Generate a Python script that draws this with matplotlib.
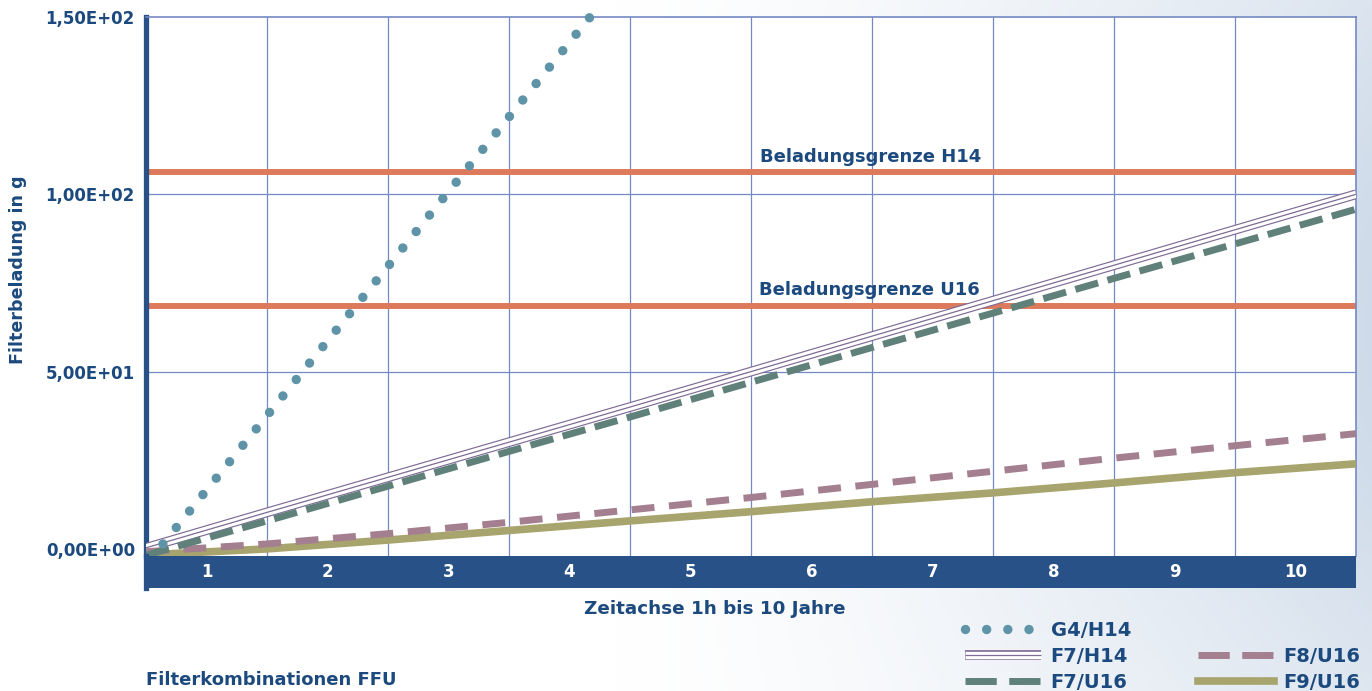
import numpy as np
import matplotlib.pyplot as plt
from matplotlib.lines import Line2D
from matplotlib.legend_handler import HandlerTuple
from matplotlib.ticker import FuncFormatter

plt.rcParams['font.family'] = ['DejaVu Sans']
plt.rcParams['font.weight'] = 'bold'

# Werte (Spaltengrenzen 0..10)
jahre = np.arange(0, 11)
f7_h14 = [0.3, 10.3, 20.2, 30.1, 40.0, 50.0, 60.0, 70.0, 80.0, 90.0, 100.0]
f7_u16 = [-1.8, 7.9, 17.7, 27.5, 37.2, 47.0, 56.8, 66.5, 76.3, 86.0, 95.8]
f8_u16 = [-0.8, 1.4, 4.3, 7.5, 11.0, 14.5, 18.2, 21.9, 25.6, 29.1, 32.5]
f9_u16 = [-1.7, 0.0, 2.5, 5.2, 7.9, 10.5, 13.3, 15.8, 18.6, 21.5, 24.0]
g4_x = [0.14, 3.67]
g4_h14 = [1.4, 150.0]

grenze_h14 = 106.2
grenze_u16 = 68.6
y_ticks = [0, 50, 100, 150]
x_labels = [str(i) for i in range(1, 11)]

# Farben
blau = '#1d4a7e'
band_blau = '#285287'
gitter = '#7489c4'
orange = '#dd7a5c'
c_g4 = '#5f93a8'
c_f7h14 = '#7f6b95'
c_f7u16 = '#60807a'
c_f8u16 = '#a47f90'
c_f9u16 = '#a8a46e'

fig = plt.figure(figsize=(13.72, 6.91), dpi=100)

# heller Hintergrund rechts
bg = fig.add_axes([0, 0, 1, 1], zorder=-10)
gx = np.linspace(0, 1, 300)
gy = np.linspace(0, 1, 150)
X, Y = np.meshgrid(gx, gy)
w = np.clip((X - 0.45) / 0.55, 0, 1) ** 1.3 * (0.65 + 0.3 * np.sin(Y * 3.0))
base = np.array([0.80, 0.85, 0.91])
img = 1 - w[..., None] * (1 - base)
bg.imshow(img, aspect='auto', extent=[0, 1, 0, 1], origin='lower')
bg.axis('off')

W, H = 1372, 691
ax = fig.add_axes([146 / W, 1 - 556 / H, (1356 - 146) / W, (556 - 17) / H])
ax.set_facecolor('white')
ax.set_xlim(0, 10)
ax.set_ylim(-2.0, 150)

for xv in range(1, 10):
    ax.axvline(xv, color=gitter, lw=0.9, zorder=1)
for yv in y_ticks[1:-1]:
    ax.axhline(yv, color=gitter, lw=0.9, zorder=1)

ax.axhline(grenze_h14, color=orange, lw=4.3, zorder=2)
ax.axhline(grenze_u16, color=orange, lw=4.3, zorder=2)
ax.annotate('Beladungsgrenze H14', xy=(5.074, grenze_h14), xytext=(0, 7.5),
            textcoords='offset points', va='baseline', ha='left',
            color=blau, fontsize=13, fontweight='bold')
ax.annotate('Beladungsgrenze U16', xy=(5.066, grenze_u16), xytext=(0, 7.5),
            textcoords='offset points', va='baseline', ha='left',
            color=blau, fontsize=13, fontweight='bold')

# F7/H14 als Dreifachlinie
t1, = ax.plot(jahre, f7_h14, color=c_f7h14, lw=7.0, zorder=3, solid_capstyle='butt')
t2, = ax.plot(jahre, f7_h14, color='white', lw=5.3, zorder=3, solid_capstyle='butt')
t3, = ax.plot(jahre, f7_h14, color=c_f7h14, lw=0.9, zorder=3, solid_capstyle='butt')

l_f9, = ax.plot(jahre, f9_u16, color=c_f9u16, lw=5.5, zorder=4, label='F9/U16')
l_f8, = ax.plot(jahre, f8_u16, color=c_f8u16, lw=5.0, zorder=4,
                linestyle=(0, (3.3, 2.1)), label='F8/U16')
l_f7u, = ax.plot(jahre, f7_u16, color=c_f7u16, lw=5.0, zorder=5,
                 linestyle=(0, (3.4, 1.4)), label='F7/U16')
l_g4, = ax.plot(g4_x, g4_h14, color=c_g4, lw=6.8, zorder=6, clip_on=False,
                linestyle=(0, (0.001, 2.24)), dash_capstyle='round', label='G4/H14')

ax.set_yticks(y_ticks)
ax.yaxis.set_major_formatter(FuncFormatter(lambda v, p: f'{v:.2E}'.replace('.', ',')))
ax.tick_params(axis='y', length=0, pad=8, labelsize=12, labelcolor=blau)
ax.set_xticks([])
for lab in ax.get_yticklabels():
    lab.set_fontweight('bold')

for s in ['top', 'right']:
    ax.spines[s].set_color(gitter)
    ax.spines[s].set_linewidth(1.2)
ax.spines['bottom'].set_visible(False)
ax.spines['left'].set_color(band_blau)
ax.spines['left'].set_linewidth(3.8)

# blaues Band mit Jahreszahlen
band = fig.add_axes([146 / W, 1 - 588 / H, (1356 - 146) / W, 32 / H])
band.set_facecolor(band_blau)
band.set_xlim(0, 10)
band.set_ylim(0, 1)
band.set_xticks([])
band.set_yticks([])
for s in ['top', 'right', 'bottom']:
    band.spines[s].set_visible(False)
band.spines['left'].set_color(band_blau)
band.spines['left'].set_linewidth(3.8)
for i, lab in enumerate(x_labels):
    band.text(i + 0.5, 0.5, lab, color='white', ha='center', va='center',
              fontsize=12, fontweight='bold')

fig.text(715 / W, 1 - 609 / H, 'Zeitachse 1h bis 10 Jahre', ha='center', va='center',
         color=blau, fontsize=13.2, fontweight='bold')
fig.text(18 / W, 1 - 270 / H, 'Filterbeladung in g', ha='center', va='center',
         rotation=90, color=blau, fontsize=12.6, fontweight='bold')
fig.text(146 / W, 1 - 680 / H, 'Filterkombinationen FFU', ha='left', va='center',
         color=blau, fontsize=13, fontweight='bold')

# Legenden-Symbole mit längeren Strichen
leg_f7u = Line2D([], [], color=c_f7u16, lw=5.0, linestyle=(0, (4.5, 1.8)))
leg_f8 = Line2D([], [], color=c_f8u16, lw=5.0, linestyle=(0, (4.5, 1.8)))
leer = Line2D([], [], alpha=0)
handles = [l_g4, (t1, t2, t3), leg_f7u, leer, leg_f8, l_f9]
labels = ['G4/H14', 'F7/H14', 'F7/U16', '', 'F8/U16', 'F9/U16']
leg = fig.legend(handles, labels, ncol=2, loc='upper left',
                 bbox_to_anchor=(965 / W, 1 - 621 / H), frameon=False,
                 handlelength=3.9, handletextpad=0.5, columnspacing=3.45,
                 labelspacing=0.36, borderpad=0, borderaxespad=0,
                 handler_map={tuple: HandlerTuple(ndivide=1, pad=0)},
                 prop={'size': 14, 'weight': 'bold'})
for t in leg.get_texts():
    t.set_color(blau)

fig.savefig('out.png', dpi=100)
